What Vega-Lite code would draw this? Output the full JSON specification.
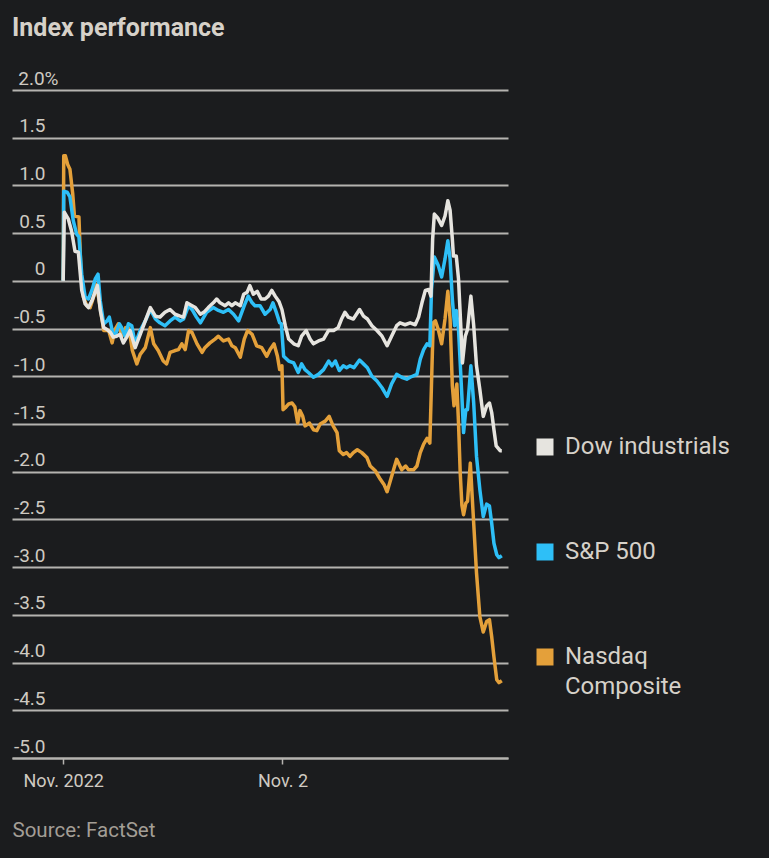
{
"$schema": "https://vega.github.io/schema/vega-lite/v6.json",
"width": 496, "height": 668,
"autosize": {"type": "none"},
"padding": {"left": 12, "top": 90, "right": 261, "bottom": 100},
"background": "#1b1c1e",
"config": {"view": {"stroke": null}, "font": "Roboto"},
"title": {"text": "Index performance", "anchor": "start", "frame": "group", "fontSize": 25, "fontWeight": "bold", "color": "#d6d1c9", "offset": 28, "font": "Roboto"},
"data": {"values": [
{"index":"Nasdaq Composite","min":0,"pct":0},{"index":"Nasdaq Composite","min":1,"pct":1.31},{"index":"Nasdaq Composite","min":4,"pct":1.31},{"index":"Nasdaq Composite","min":8,"pct":1.22},{"index":"Nasdaq Composite","min":12,"pct":1.17},{"index":"Nasdaq Composite","min":17,"pct":0.91},{"index":"Nasdaq Composite","min":20,"pct":0.68},{"index":"Nasdaq Composite","min":28,"pct":0.67},{"index":"Nasdaq Composite","min":32,"pct":0.04},{"index":"Nasdaq Composite","min":36,"pct":-0.17},{"index":"Nasdaq Composite","min":42,"pct":-0.26},{"index":"Nasdaq Composite","min":48,"pct":-0.28},{"index":"Nasdaq Composite","min":54,"pct":-0.17},{"index":"Nasdaq Composite","min":59,"pct":-0.04},{"index":"Nasdaq Composite","min":66,"pct":-0.28},{"index":"Nasdaq Composite","min":72,"pct":-0.52},{"index":"Nasdaq Composite","min":81,"pct":-0.52},{"index":"Nasdaq Composite","min":87,"pct":-0.65},{"index":"Nasdaq Composite","min":92,"pct":-0.51},{"index":"Nasdaq Composite","min":98,"pct":-0.45},{"index":"Nasdaq Composite","min":104,"pct":-0.58},{"index":"Nasdaq Composite","min":111,"pct":-0.49},{"index":"Nasdaq Composite","min":117,"pct":-0.5},{"index":"Nasdaq Composite","min":123,"pct":-0.73},{"index":"Nasdaq Composite","min":131,"pct":-0.87},{"index":"Nasdaq Composite","min":137,"pct":-0.77},{"index":"Nasdaq Composite","min":146,"pct":-0.7},{"index":"Nasdaq Composite","min":155,"pct":-0.49},{"index":"Nasdaq Composite","min":161,"pct":-0.66},{"index":"Nasdaq Composite","min":169,"pct":-0.73},{"index":"Nasdaq Composite","min":178,"pct":-0.84},{"index":"Nasdaq Composite","min":184,"pct":-0.87},{"index":"Nasdaq Composite","min":190,"pct":-0.75},{"index":"Nasdaq Composite","min":199,"pct":-0.73},{"index":"Nasdaq Composite","min":205,"pct":-0.72},{"index":"Nasdaq Composite","min":211,"pct":-0.66},{"index":"Nasdaq Composite","min":217,"pct":-0.72},{"index":"Nasdaq Composite","min":223,"pct":-0.52},{"index":"Nasdaq Composite","min":229,"pct":-0.54},{"index":"Nasdaq Composite","min":238,"pct":-0.66},{"index":"Nasdaq Composite","min":247,"pct":-0.75},{"index":"Nasdaq Composite","min":252,"pct":-0.7},{"index":"Nasdaq Composite","min":261,"pct":-0.65},{"index":"Nasdaq Composite","min":270,"pct":-0.61},{"index":"Nasdaq Composite","min":276,"pct":-0.58},{"index":"Nasdaq Composite","min":285,"pct":-0.63},{"index":"Nasdaq Composite","min":294,"pct":-0.61},{"index":"Nasdaq Composite","min":300,"pct":-0.68},{"index":"Nasdaq Composite","min":306,"pct":-0.7},{"index":"Nasdaq Composite","min":315,"pct":-0.8},{"index":"Nasdaq Composite","min":322,"pct":-0.61},{"index":"Nasdaq Composite","min":328,"pct":-0.52},{"index":"Nasdaq Composite","min":336,"pct":-0.56},{"index":"Nasdaq Composite","min":344,"pct":-0.68},{"index":"Nasdaq Composite","min":353,"pct":-0.7},{"index":"Nasdaq Composite","min":362,"pct":-0.79},{"index":"Nasdaq Composite","min":368,"pct":-0.72},{"index":"Nasdaq Composite","min":375,"pct":-0.66},{"index":"Nasdaq Composite","min":381,"pct":-0.79},{"index":"Nasdaq Composite","min":385,"pct":-0.93},{"index":"Nasdaq Composite","min":389,"pct":-0.89},{"index":"Nasdaq Composite","min":391,"pct":-1.35},{"index":"Nasdaq Composite","min":395,"pct":-1.33},{"index":"Nasdaq Composite","min":401,"pct":-1.29},{"index":"Nasdaq Composite","min":407,"pct":-1.28},{"index":"Nasdaq Composite","min":412,"pct":-1.32},{"index":"Nasdaq Composite","min":417,"pct":-1.49},{"index":"Nasdaq Composite","min":421,"pct":-1.36},{"index":"Nasdaq Composite","min":426,"pct":-1.42},{"index":"Nasdaq Composite","min":430,"pct":-1.52},{"index":"Nasdaq Composite","min":438,"pct":-1.49},{"index":"Nasdaq Composite","min":445,"pct":-1.56},{"index":"Nasdaq Composite","min":451,"pct":-1.57},{"index":"Nasdaq Composite","min":457,"pct":-1.5},{"index":"Nasdaq Composite","min":466,"pct":-1.47},{"index":"Nasdaq Composite","min":473,"pct":-1.42},{"index":"Nasdaq Composite","min":480,"pct":-1.52},{"index":"Nasdaq Composite","min":487,"pct":-1.59},{"index":"Nasdaq Composite","min":491,"pct":-1.78},{"index":"Nasdaq Composite","min":498,"pct":-1.82},{"index":"Nasdaq Composite","min":504,"pct":-1.8},{"index":"Nasdaq Composite","min":510,"pct":-1.84},{"index":"Nasdaq Composite","min":516,"pct":-1.8},{"index":"Nasdaq Composite","min":523,"pct":-1.77},{"index":"Nasdaq Composite","min":531,"pct":-1.8},{"index":"Nasdaq Composite","min":540,"pct":-1.85},{"index":"Nasdaq Composite","min":546,"pct":-1.94},{"index":"Nasdaq Composite","min":555,"pct":-1.99},{"index":"Nasdaq Composite","min":564,"pct":-2.08},{"index":"Nasdaq Composite","min":571,"pct":-2.14},{"index":"Nasdaq Composite","min":576,"pct":-2.21},{"index":"Nasdaq Composite","min":584,"pct":-2.05},{"index":"Nasdaq Composite","min":593,"pct":-1.87},{"index":"Nasdaq Composite","min":602,"pct":-1.98},{"index":"Nasdaq Composite","min":609,"pct":-1.94},{"index":"Nasdaq Composite","min":614,"pct":-1.98},{"index":"Nasdaq Composite","min":623,"pct":-1.98},{"index":"Nasdaq Composite","min":629,"pct":-1.94},{"index":"Nasdaq Composite","min":635,"pct":-1.8},{"index":"Nasdaq Composite","min":641,"pct":-1.71},{"index":"Nasdaq Composite","min":647,"pct":-1.65},{"index":"Nasdaq Composite","min":652,"pct":-1.7},{"index":"Nasdaq Composite","min":655,"pct":-1.07},{"index":"Nasdaq Composite","min":658,"pct":-0.44},{"index":"Nasdaq Composite","min":662,"pct":-0.42},{"index":"Nasdaq Composite","min":667,"pct":-0.51},{"index":"Nasdaq Composite","min":673,"pct":-0.66},{"index":"Nasdaq Composite","min":679,"pct":-0.4},{"index":"Nasdaq Composite","min":684,"pct":-0.11},{"index":"Nasdaq Composite","min":688,"pct":-0.4},{"index":"Nasdaq Composite","min":692,"pct":-1.1},{"index":"Nasdaq Composite","min":695,"pct":-1.31},{"index":"Nasdaq Composite","min":700,"pct":-1.08},{"index":"Nasdaq Composite","min":703,"pct":-1.49},{"index":"Nasdaq Composite","min":706,"pct":-2.01},{"index":"Nasdaq Composite","min":709,"pct":-2.35},{"index":"Nasdaq Composite","min":712,"pct":-2.45},{"index":"Nasdaq Composite","min":716,"pct":-2.33},{"index":"Nasdaq Composite","min":719,"pct":-2.31},{"index":"Nasdaq Composite","min":724,"pct":-1.91},{"index":"Nasdaq Composite","min":730,"pct":-2.54},{"index":"Nasdaq Composite","min":735,"pct":-3.06},{"index":"Nasdaq Composite","min":741,"pct":-3.52},{"index":"Nasdaq Composite","min":747,"pct":-3.68},{"index":"Nasdaq Composite","min":753,"pct":-3.57},{"index":"Nasdaq Composite","min":758,"pct":-3.55},{"index":"Nasdaq Composite","min":762,"pct":-3.73},{"index":"Nasdaq Composite","min":766,"pct":-3.94},{"index":"Nasdaq Composite","min":771,"pct":-4.18},{"index":"Nasdaq Composite","min":775,"pct":-4.21},{"index":"Nasdaq Composite","min":780,"pct":-4.19},
{"index":"S&P 500","min":0,"pct":0},{"index":"S&P 500","min":1,"pct":0.94},{"index":"S&P 500","min":7,"pct":0.93},{"index":"S&P 500","min":12,"pct":0.88},{"index":"S&P 500","min":18,"pct":0.63},{"index":"S&P 500","min":24,"pct":0.49},{"index":"S&P 500","min":28,"pct":0.46},{"index":"S&P 500","min":33,"pct":0.07},{"index":"S&P 500","min":39,"pct":-0.17},{"index":"S&P 500","min":45,"pct":-0.19},{"index":"S&P 500","min":51,"pct":-0.1},{"index":"S&P 500","min":57,"pct":0.02},{"index":"S&P 500","min":62,"pct":0.07},{"index":"S&P 500","min":66,"pct":-0.21},{"index":"S&P 500","min":72,"pct":-0.45},{"index":"S&P 500","min":78,"pct":-0.42},{"index":"S&P 500","min":82,"pct":-0.38},{"index":"S&P 500","min":88,"pct":-0.54},{"index":"S&P 500","min":92,"pct":-0.58},{"index":"S&P 500","min":100,"pct":-0.45},{"index":"S&P 500","min":104,"pct":-0.49},{"index":"S&P 500","min":110,"pct":-0.58},{"index":"S&P 500","min":116,"pct":-0.45},{"index":"S&P 500","min":122,"pct":-0.47},{"index":"S&P 500","min":128,"pct":-0.66},{"index":"S&P 500","min":137,"pct":-0.52},{"index":"S&P 500","min":146,"pct":-0.42},{"index":"S&P 500","min":155,"pct":-0.3},{"index":"S&P 500","min":164,"pct":-0.4},{"index":"S&P 500","min":172,"pct":-0.44},{"index":"S&P 500","min":181,"pct":-0.47},{"index":"S&P 500","min":190,"pct":-0.42},{"index":"S&P 500","min":199,"pct":-0.38},{"index":"S&P 500","min":208,"pct":-0.42},{"index":"S&P 500","min":214,"pct":-0.4},{"index":"S&P 500","min":223,"pct":-0.26},{"index":"S&P 500","min":229,"pct":-0.3},{"index":"S&P 500","min":237,"pct":-0.38},{"index":"S&P 500","min":244,"pct":-0.44},{"index":"S&P 500","min":255,"pct":-0.33},{"index":"S&P 500","min":267,"pct":-0.28},{"index":"S&P 500","min":276,"pct":-0.31},{"index":"S&P 500","min":285,"pct":-0.33},{"index":"S&P 500","min":294,"pct":-0.3},{"index":"S&P 500","min":303,"pct":-0.35},{"index":"S&P 500","min":312,"pct":-0.42},{"index":"S&P 500","min":322,"pct":-0.26},{"index":"S&P 500","min":329,"pct":-0.16},{"index":"S&P 500","min":336,"pct":-0.23},{"index":"S&P 500","min":341,"pct":-0.26},{"index":"S&P 500","min":350,"pct":-0.26},{"index":"S&P 500","min":359,"pct":-0.35},{"index":"S&P 500","min":368,"pct":-0.3},{"index":"S&P 500","min":373,"pct":-0.23},{"index":"S&P 500","min":379,"pct":-0.33},{"index":"S&P 500","min":385,"pct":-0.44},{"index":"S&P 500","min":388,"pct":-0.45},{"index":"S&P 500","min":392,"pct":-0.79},{"index":"S&P 500","min":401,"pct":-0.84},{"index":"S&P 500","min":410,"pct":-0.86},{"index":"S&P 500","min":418,"pct":-0.96},{"index":"S&P 500","min":424,"pct":-0.87},{"index":"S&P 500","min":430,"pct":-0.93},{"index":"S&P 500","min":436,"pct":-0.96},{"index":"S&P 500","min":445,"pct":-1.01},{"index":"S&P 500","min":454,"pct":-0.98},{"index":"S&P 500","min":463,"pct":-0.93},{"index":"S&P 500","min":472,"pct":-0.84},{"index":"S&P 500","min":478,"pct":-0.89},{"index":"S&P 500","min":484,"pct":-0.84},{"index":"S&P 500","min":491,"pct":-0.94},{"index":"S&P 500","min":498,"pct":-0.89},{"index":"S&P 500","min":504,"pct":-0.91},{"index":"S&P 500","min":510,"pct":-0.89},{"index":"S&P 500","min":517,"pct":-0.91},{"index":"S&P 500","min":527,"pct":-0.83},{"index":"S&P 500","min":534,"pct":-0.87},{"index":"S&P 500","min":541,"pct":-0.91},{"index":"S&P 500","min":549,"pct":-1.0},{"index":"S&P 500","min":558,"pct":-1.05},{"index":"S&P 500","min":567,"pct":-1.12},{"index":"S&P 500","min":576,"pct":-1.21},{"index":"S&P 500","min":584,"pct":-1.08},{"index":"S&P 500","min":593,"pct":-0.98},{"index":"S&P 500","min":602,"pct":-1.01},{"index":"S&P 500","min":611,"pct":-1.03},{"index":"S&P 500","min":617,"pct":-1.01},{"index":"S&P 500","min":629,"pct":-0.98},{"index":"S&P 500","min":635,"pct":-0.82},{"index":"S&P 500","min":641,"pct":-0.72},{"index":"S&P 500","min":647,"pct":-0.66},{"index":"S&P 500","min":652,"pct":-0.68},{"index":"S&P 500","min":655,"pct":-0.09},{"index":"S&P 500","min":660,"pct":0.25},{"index":"S&P 500","min":667,"pct":0.16},{"index":"S&P 500","min":673,"pct":0.04},{"index":"S&P 500","min":679,"pct":0.23},{"index":"S&P 500","min":684,"pct":0.42},{"index":"S&P 500","min":688,"pct":0.23},{"index":"S&P 500","min":692,"pct":-0.19},{"index":"S&P 500","min":696,"pct":-0.47},{"index":"S&P 500","min":699,"pct":-0.31},{"index":"S&P 500","min":703,"pct":-0.51},{"index":"S&P 500","min":709,"pct":-1.21},{"index":"S&P 500","min":712,"pct":-1.59},{"index":"S&P 500","min":716,"pct":-1.35},{"index":"S&P 500","min":719,"pct":-1.35},{"index":"S&P 500","min":725,"pct":-0.89},{"index":"S&P 500","min":730,"pct":-1.28},{"index":"S&P 500","min":735,"pct":-1.84},{"index":"S&P 500","min":741,"pct":-2.19},{"index":"S&P 500","min":747,"pct":-2.47},{"index":"S&P 500","min":753,"pct":-2.34},{"index":"S&P 500","min":758,"pct":-2.36},{"index":"S&P 500","min":762,"pct":-2.54},{"index":"S&P 500","min":766,"pct":-2.75},{"index":"S&P 500","min":771,"pct":-2.87},{"index":"S&P 500","min":775,"pct":-2.9},{"index":"S&P 500","min":780,"pct":-2.88},
{"index":"Dow industrials","min":0,"pct":0},{"index":"Dow industrials","min":2,"pct":0.72},{"index":"Dow industrials","min":9,"pct":0.65},{"index":"Dow industrials","min":15,"pct":0.52},{"index":"Dow industrials","min":21,"pct":0.31},{"index":"Dow industrials","min":27,"pct":0.3},{"index":"Dow industrials","min":33,"pct":-0.1},{"index":"Dow industrials","min":39,"pct":-0.24},{"index":"Dow industrials","min":45,"pct":-0.28},{"index":"Dow industrials","min":51,"pct":-0.21},{"index":"Dow industrials","min":61,"pct":-0.05},{"index":"Dow industrials","min":66,"pct":-0.31},{"index":"Dow industrials","min":72,"pct":-0.49},{"index":"Dow industrials","min":78,"pct":-0.51},{"index":"Dow industrials","min":84,"pct":-0.54},{"index":"Dow industrials","min":89,"pct":-0.59},{"index":"Dow industrials","min":95,"pct":-0.58},{"index":"Dow industrials","min":101,"pct":-0.56},{"index":"Dow industrials","min":107,"pct":-0.65},{"index":"Dow industrials","min":113,"pct":-0.59},{"index":"Dow industrials","min":119,"pct":-0.52},{"index":"Dow industrials","min":128,"pct":-0.7},{"index":"Dow industrials","min":137,"pct":-0.56},{"index":"Dow industrials","min":146,"pct":-0.42},{"index":"Dow industrials","min":155,"pct":-0.28},{"index":"Dow industrials","min":164,"pct":-0.37},{"index":"Dow industrials","min":172,"pct":-0.38},{"index":"Dow industrials","min":181,"pct":-0.33},{"index":"Dow industrials","min":190,"pct":-0.3},{"index":"Dow industrials","min":199,"pct":-0.35},{"index":"Dow industrials","min":208,"pct":-0.37},{"index":"Dow industrials","min":214,"pct":-0.38},{"index":"Dow industrials","min":220,"pct":-0.23},{"index":"Dow industrials","min":226,"pct":-0.25},{"index":"Dow industrials","min":235,"pct":-0.28},{"index":"Dow industrials","min":244,"pct":-0.35},{"index":"Dow industrials","min":250,"pct":-0.33},{"index":"Dow industrials","min":258,"pct":-0.28},{"index":"Dow industrials","min":267,"pct":-0.23},{"index":"Dow industrials","min":273,"pct":-0.19},{"index":"Dow industrials","min":279,"pct":-0.23},{"index":"Dow industrials","min":288,"pct":-0.26},{"index":"Dow industrials","min":294,"pct":-0.23},{"index":"Dow industrials","min":300,"pct":-0.26},{"index":"Dow industrials","min":306,"pct":-0.23},{"index":"Dow industrials","min":315,"pct":-0.26},{"index":"Dow industrials","min":321,"pct":-0.14},{"index":"Dow industrials","min":327,"pct":-0.12},{"index":"Dow industrials","min":332,"pct":-0.05},{"index":"Dow industrials","min":338,"pct":-0.14},{"index":"Dow industrials","min":345,"pct":-0.11},{"index":"Dow industrials","min":352,"pct":-0.19},{"index":"Dow industrials","min":359,"pct":-0.19},{"index":"Dow industrials","min":365,"pct":-0.16},{"index":"Dow industrials","min":371,"pct":-0.1},{"index":"Dow industrials","min":377,"pct":-0.16},{"index":"Dow industrials","min":384,"pct":-0.22},{"index":"Dow industrials","min":389,"pct":-0.3},{"index":"Dow industrials","min":395,"pct":-0.47},{"index":"Dow industrials","min":401,"pct":-0.61},{"index":"Dow industrials","min":410,"pct":-0.66},{"index":"Dow industrials","min":418,"pct":-0.68},{"index":"Dow industrials","min":424,"pct":-0.58},{"index":"Dow industrials","min":432,"pct":-0.52},{"index":"Dow industrials","min":439,"pct":-0.61},{"index":"Dow industrials","min":445,"pct":-0.66},{"index":"Dow industrials","min":454,"pct":-0.63},{"index":"Dow industrials","min":463,"pct":-0.61},{"index":"Dow industrials","min":472,"pct":-0.52},{"index":"Dow industrials","min":481,"pct":-0.52},{"index":"Dow industrials","min":489,"pct":-0.49},{"index":"Dow industrials","min":495,"pct":-0.4},{"index":"Dow industrials","min":501,"pct":-0.33},{"index":"Dow industrials","min":507,"pct":-0.38},{"index":"Dow industrials","min":516,"pct":-0.4},{"index":"Dow industrials","min":527,"pct":-0.3},{"index":"Dow industrials","min":534,"pct":-0.37},{"index":"Dow industrials","min":541,"pct":-0.4},{"index":"Dow industrials","min":549,"pct":-0.47},{"index":"Dow industrials","min":558,"pct":-0.52},{"index":"Dow industrials","min":567,"pct":-0.58},{"index":"Dow industrials","min":576,"pct":-0.68},{"index":"Dow industrials","min":584,"pct":-0.58},{"index":"Dow industrials","min":593,"pct":-0.47},{"index":"Dow industrials","min":599,"pct":-0.44},{"index":"Dow industrials","min":608,"pct":-0.46},{"index":"Dow industrials","min":617,"pct":-0.44},{"index":"Dow industrials","min":626,"pct":-0.46},{"index":"Dow industrials","min":632,"pct":-0.38},{"index":"Dow industrials","min":638,"pct":-0.23},{"index":"Dow industrials","min":644,"pct":-0.1},{"index":"Dow industrials","min":650,"pct":-0.09},{"index":"Dow industrials","min":654,"pct":-0.16},{"index":"Dow industrials","min":657,"pct":0.44},{"index":"Dow industrials","min":660,"pct":0.7},{"index":"Dow industrials","min":666,"pct":0.66},{"index":"Dow industrials","min":673,"pct":0.58},{"index":"Dow industrials","min":679,"pct":0.68},{"index":"Dow industrials","min":684,"pct":0.84},{"index":"Dow industrials","min":688,"pct":0.74},{"index":"Dow industrials","min":692,"pct":0.44},{"index":"Dow industrials","min":694,"pct":0.26},{"index":"Dow industrials","min":699,"pct":0.26},{"index":"Dow industrials","min":703,"pct":0.02},{"index":"Dow industrials","min":707,"pct":-0.47},{"index":"Dow industrials","min":710,"pct":-0.86},{"index":"Dow industrials","min":715,"pct":-0.58},{"index":"Dow industrials","min":719,"pct":-0.51},{"index":"Dow industrials","min":725,"pct":-0.16},{"index":"Dow industrials","min":730,"pct":-0.47},{"index":"Dow industrials","min":735,"pct":-0.89},{"index":"Dow industrials","min":741,"pct":-1.14},{"index":"Dow industrials","min":747,"pct":-1.42},{"index":"Dow industrials","min":753,"pct":-1.31},{"index":"Dow industrials","min":758,"pct":-1.28},{"index":"Dow industrials","min":762,"pct":-1.38},{"index":"Dow industrials","min":766,"pct":-1.56},{"index":"Dow industrials","min":770,"pct":-1.73},{"index":"Dow industrials","min":777,"pct":-1.78},{"index":"Dow industrials","min":780,"pct":-1.78}
]},
"mark": {"type": "line", "strokeWidth": 3.5, "strokeJoin": "round"},
"encoding": {
  "x": {"field": "min", "type": "quantitative",
    "scale": {"domain": [-91, 791], "nice": false, "zero": false},
    "axis": {"values": [0, 390], "labelExpr": "datum.value == 0 ? 'Nov. 2022' : 'Nov. 2'", "grid": false,
      "domain": true, "domainColor": "#b5b3b0", "domainWidth": 2,
      "ticks": true, "tickSize": 6, "tickColor": "#b5b3b0", "tickWidth": 1.5,
      "labelFontSize": 18, "labelColor": "#cfcac2", "labelPadding": 8, "labelFont": "Roboto",
      "title": "Source: FactSet", "titleX": 0, "titleY": 72, "titleAlign": "left", "titleAnchor": "start",
      "titleBaseline": "middle", "titleFontSize": 20.5, "titleFontWeight": "normal", "titleColor": "#a39e96", "titleFont": "Roboto"}},
  "y": {"field": "pct", "type": "quantitative",
    "scale": {"domain": [-5, 2], "nice": false, "zero": false},
    "axis": {"values": [-5,-4.5,-4,-3.5,-3,-2.5,-2,-1.5,-1,-0.5,0,0.5,1,1.5,2],
      "labelExpr": "datum.value == 2 ? '2.0%' : datum.value == 0 ? '0' : (datum.value < 0 ? '-' : '') + format(abs(datum.value), '.1f')",
      "grid": true, "gridColor": "#b5b3b0", "gridWidth": 2, "domain": false, "ticks": false,
      "labelAlign": "right", "labelPadding": {"condition": {"test": "datum.value == 2", "value": -46}, "value": -33},
      "labelBaseline": "alphabetic", "labelOffset": -6, "labelFontSize": 19, "labelColor": "#cfcac2", "labelFont": "Roboto", "title": null}},
  "color": {"field": "index", "type": "nominal",
    "scale": {"domain": ["Dow industrials", "S&P 500", "Nasdaq Composite"], "range": ["#e6e4df", "#2ebff7", "#e4a03a"]},
    "legend": {"orient": "none", "legendX": 521, "legendY": 345, "title": null, "symbolType": "square", "symbolSize": 289,
      "symbolStrokeWidth": 0, "labelFontSize": 24, "labelColor": "#d6d1c9", "labelFont": "Roboto", "labelOffset": 8,
      "labelLimit": 300, "rowPadding": 81, "padding": 0,
      "labelExpr": "datum.label == 'Nasdaq Composite' ? ['Nasdaq', 'Composite'] : datum.label",
      "encode": {"symbols": {"update": {"fill": {"scale": "color", "field": "value"}, "fillOpacity": {"value": 1}, "opacity": {"value": 1}}},
                 "labels": {"update": {"lineHeight": {"value": 30}}}}}}
}
}
